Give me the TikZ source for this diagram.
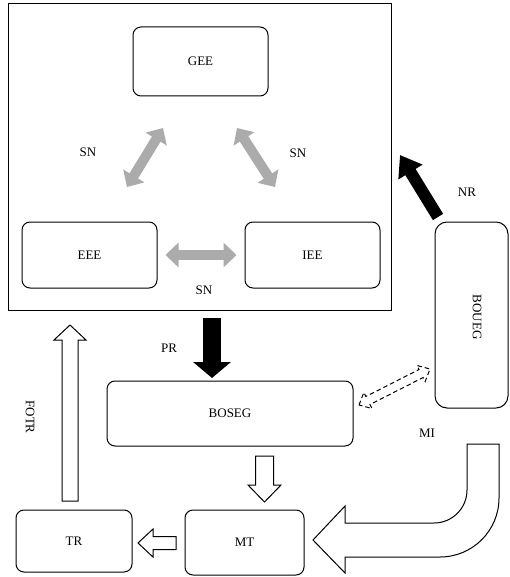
\documentclass[tikz,border=0pt]{standalone}
\usepackage{fontspec}
\setmainfont{Liberation Serif}
\usetikzlibrary{arrows.meta,calc}

% open block arrow: [style]{from}{to}{half shaft}{half head}{head length}
\newcommand\blockarrow[6][]{%
  \coordinate (ba-h) at ($(#3)!#6!(#2)$);
  \draw[#1] ($(#2)!#4!90:(#3)$) -- ($(ba-h)!#4!-90:(#2)$) -- ($(ba-h)!#5!-90:(#2)$) -- (#3)
    -- ($(ba-h)!#5!90:(#2)$) -- ($(ba-h)!#4!90:(#2)$) -- ($(#2)!#4!-90:(#3)$) -- cycle;
}
% open double block arrow, same arguments
\newcommand\dblarrow[6][]{%
  \coordinate (da-h1) at ($(#2)!#6!(#3)$);
  \coordinate (da-h2) at ($(#3)!#6!(#2)$);
  \draw[#1] (#2) -- ($(da-h1)!#5!90:(#3)$) -- ($(da-h1)!#4!90:(#3)$) -- ($(da-h2)!#4!-90:(#2)$)
    -- ($(da-h2)!#5!-90:(#2)$) -- (#3) -- ($(da-h2)!#5!90:(#2)$) -- ($(da-h2)!#4!90:(#2)$)
    -- ($(da-h1)!#4!-90:(#3)$) -- ($(da-h1)!#5!-90:(#3)$) -- cycle;
}

\tikzset{
  box/.style={draw, line width=1pt, rounded corners=8pt, inner sep=0pt},
  lab/.style={inner sep=0pt},
  snarrow/.style={draw=black!33, line width=10pt,
    {Triangle[width=24pt,length=13pt]}-{Triangle[width=24pt,length=13pt]}},
  openarrow/.style={draw, line width=1pt, fill=white, line join=miter},
}

\begin{document}
\begin{tikzpicture}[x=1pt, y=-1pt, font=\fontsize{13}{15}\selectfont]
  \useasboundingbox (0,0) rectangle (510,577);

  % system frame
  \node[draw, line width=1pt, minimum width=383pt, minimum height=306pt] (sys) at (199.5,157) {};
  \node[box, minimum width=135pt, minimum height=69pt] (gee) at (200.5,61.5) {GEE};
  \node[box, minimum width=135pt, minimum height=66pt] (eee) at (89.5,255) {EEE};
  \node[box, minimum width=135pt, minimum height=66pt] (iee) at (312.5,255) {IEE};

  \coordinate (sn1a) at (163,128);
  \coordinate (sn1b) at (127,187);
  \coordinate (sn2a) at (237,128);
  \coordinate (sn2b) at (275,187);
  \draw[snarrow] (sn1a) -- (sn1b);
  \draw[snarrow] (sn2a) -- (sn2b);
  \draw[snarrow] ([xshift=8pt]eee.east) -- ([xshift=-8pt]iee.west);
  \node[lab] (snl) at (88,152) {SN};
  \node[lab] (snr) at (298,153) {SN};
  \node[lab] (snb) at (204,290) {SN};

  % outside boxes
  \node[box, rounded corners=12pt, minimum width=73pt, minimum height=186pt] (boueg) at (471.5,315) {};
  \node[lab, rotate=-90] (bouegt) at (477,317) {BOUEG};
  \node[box, minimum width=246pt, minimum height=65pt] (boseg) at (230,413.5) {BOSEG};
  \node[box, minimum width=119pt, minimum height=65pt] (mt) at (244.5,542.5) {MT};
  \node[box, minimum width=116pt, minimum height=62pt] (tr) at (74,541) {TR};

  % NR and PR
  \coordinate (nra) at (438,217);
  \coordinate (nrb) at (400,155);
  \draw[line width=12pt, -{Triangle[width=27pt,length=20pt]}] (nra) -- (nrb);
  \node[lab] (nr) at (467,192) {NR};
  \coordinate (pra) at (212,318);
  \coordinate (prb) at (212,378);
  \draw[line width=18pt, -{Triangle[width=37pt,length=16pt]}] (pra) -- (prb);
  \node[lab] (pr) at (169,348) {PR};

  % open arrows
  \coordinate (fotra) at (70,501);
  \coordinate (fotrb) at (70,325);
  \blockarrow[openarrow]{fotra}{fotrb}{8pt}{16pt}{15pt}
  \node[lab, rotate=-90] (fotr) at (30,417) {FOTR};
  \coordinate (mta) at (264.5,456);
  \coordinate (mtb) at (264.5,502);
  \blockarrow[openarrow]{mta}{mtb}{9pt}{16.5pt}{17pt}
  \coordinate (tra) at (176,543);
  \coordinate (trb) at (138,543);
  \blockarrow[openarrow]{tra}{trb}{6.5pt}{14pt}{15pt}
  \coordinate (dsa) at (359,405);
  \coordinate (dsb) at (430,369);
  \dblarrow[openarrow, dash pattern=on 4.5pt off 3pt]{dsa}{dsb}{4.5pt}{9pt}{10pt}

  % MI
  \draw[openarrow] (467,444) [rounded corners=33pt] -- (467,523) [sharp corners] -- (345,523) -- (345,506)
    -- (313,540) -- (345,573) -- (345,557) [rounded corners=59pt] -- (499,557) [sharp corners] -- (499,444) -- cycle;
  \node[lab] (mi) at (427,433) {MI};
\end{tikzpicture}
\end{document}
